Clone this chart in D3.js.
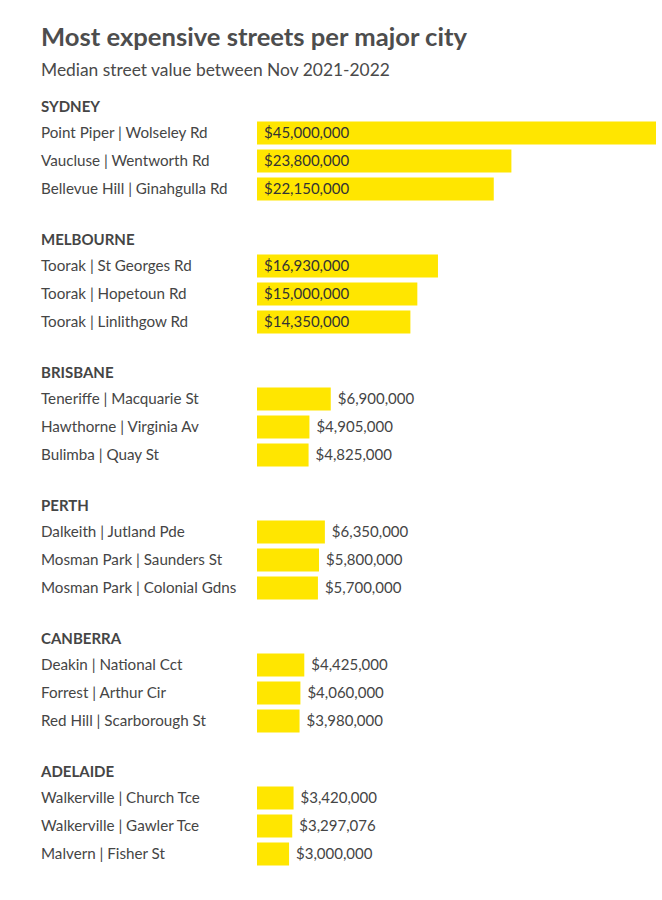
<!DOCTYPE html>
<html>
<head>
<meta charset="utf-8">
<script src="https://cdn.jsdelivr.net/npm/d3@7"></script>
<style>
  html, body { margin: 0; padding: 0; background: #fff; }
  svg { display: block; font-family: Lato, "Open Sans", sans-serif; }
</style>
</head>
<body>
<svg id="chart" width="662" height="900"></svg>
<script>
const title = "Most expensive streets per major city";
const subtitle = "Median street value between Nov 2021-2022";
const cities = ["SYDNEY", "MELBOURNE", "BRISBANE", "PERTH", "CANBERRA", "ADELAIDE"];
const streets = [
  ["Point Piper | Wolseley Rd", "Vaucluse | Wentworth Rd", "Bellevue Hill | Ginahgulla Rd"],
  ["Toorak | St Georges Rd", "Toorak | Hopetoun Rd", "Toorak | Linlithgow Rd"],
  ["Teneriffe | Macquarie St", "Hawthorne | Virginia Av", "Bulimba | Quay St"],
  ["Dalkeith | Jutland Pde", "Mosman Park | Saunders St", "Mosman Park | Colonial Gdns"],
  ["Deakin | National Cct", "Forrest | Arthur Cir", "Red Hill | Scarborough St"],
  ["Walkerville | Church Tce", "Walkerville | Gawler Tce", "Malvern | Fisher St"]
];
const values = [
  [45000000, 23800000, 22150000],
  [16930000, 15000000, 14350000],
  [6900000, 4905000, 4825000],
  [6350000, 5800000, 5700000],
  [4425000, 4060000, 3980000],
  [3420000, 3297076, 3000000]
];

const svg = d3.select("#chart");
const textColor = "#454545";
const barColor = "#ffe600";
const barX0 = 257;

const x = d3.scaleLinear().domain([0, 45000000]).range([barX0, barX0 + 481]);
const gy = d3.scaleLinear().domain([0, 5]).range([133, 798]);
const ry = d3.scaleBand().domain([0, 1, 2]).range([-14, 70]).paddingInner(5 / 28).paddingOuter(2.5 / 28);
const fmt = v => "$" + d3.format(",")(v);

svg.append("defs").append("clipPath").attr("id", "clip")
  .append("rect").attr("x", 0).attr("y", -200).attr("width", 656).attr("height", 1400);

svg.append("text").attr("x", 41).attr("y", 46)
  .attr("font-size", 25.6).attr("font-weight", 700).attr("fill", "#4d4d4d").text(title);
svg.append("text").attr("x", 41).attr("y", 76)
  .attr("font-size", 17.4).attr("fill", "#4a4a4a").text(subtitle);

const groups = svg.selectAll("g.city").data(cities).join("g")
  .attr("class", "city")
  .attr("transform", (d, i) => `translate(0,${gy(i)})`);

groups.append("text").attr("x", 41).attr("y", -21)
  .attr("font-size", 15).attr("font-weight", 700).attr("fill", textColor)
  .text(d => d);

const rows = groups.selectAll("g.row")
  .data((d, i) => values[i].map((v, j) => ({ v, name: streets[i][j], j })))
  .join("g").attr("class", "row");

rows.append("rect")
  .attr("clip-path", "url(#clip)")
  .attr("x", x(0))
  .attr("y", d => ry(d.j))
  .attr("width", d => x(d.v) - x(0))
  .attr("height", ry.bandwidth())
  .attr("fill", barColor);

rows.append("text")
  .attr("x", 41)
  .attr("y", d => ry(d.j) + ry.bandwidth() / 2)
  .attr("dy", "0.35em")
  .attr("font-size", 15.2).attr("fill", textColor)
  .text(d => d.name);

rows.append("text")
  .attr("x", d => d.v > 10000000 ? x(0) + 7 : x(d.v) + 7)
  .attr("y", d => ry(d.j) + ry.bandwidth() / 2)
  .attr("dy", "0.35em")
  .attr("font-size", 15)
  .attr("fill", d => d.v > 10000000 ? "#333" : textColor)
  .text(d => fmt(d.v));
</script>
</body>
</html>
